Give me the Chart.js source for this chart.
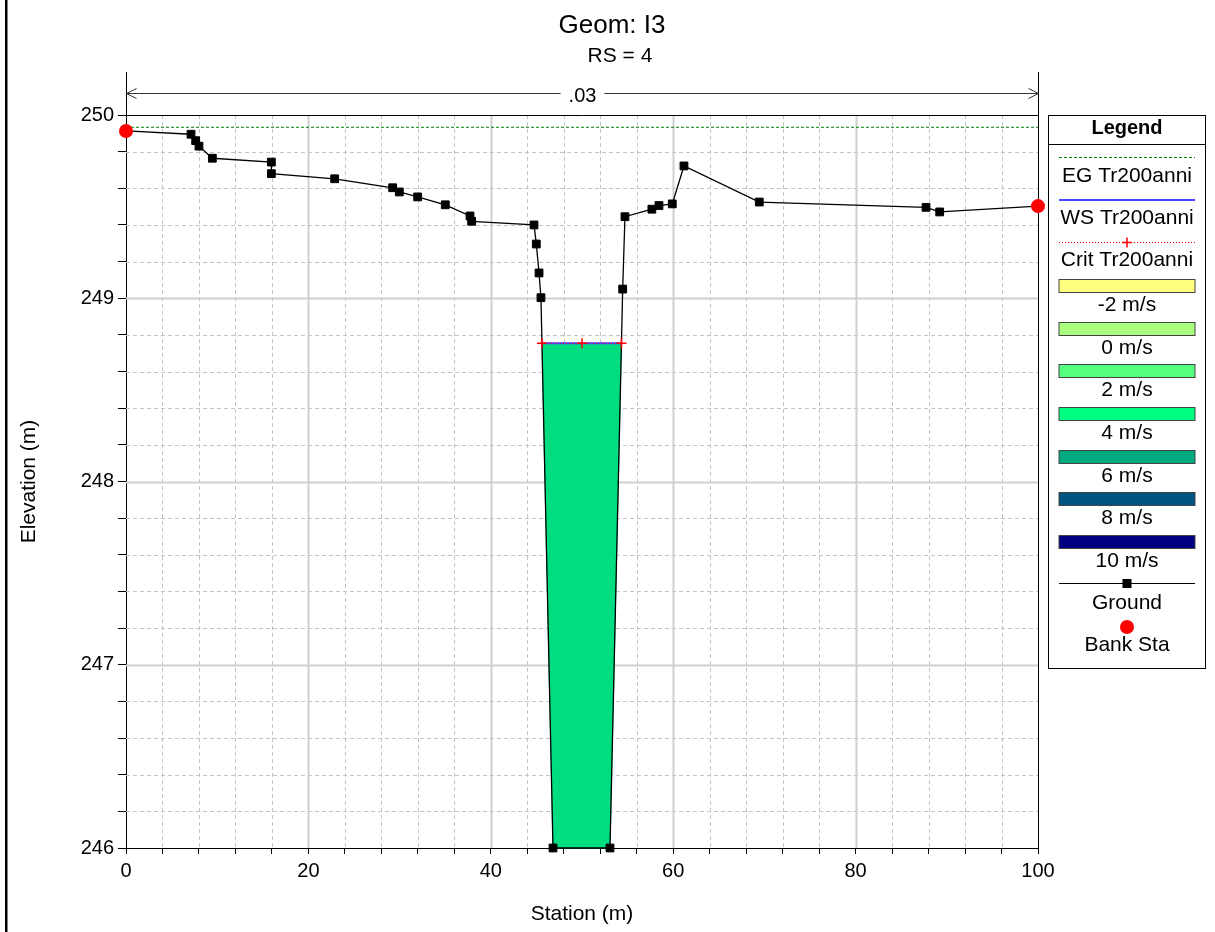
<!DOCTYPE html>
<html><head><meta charset="utf-8">
<script src="https://cdn.jsdelivr.net/npm/chart.js@4.4.1/dist/chart.umd.min.js"></script>
<style>html,body{margin:0;padding:0;background:#fff;}canvas{display:block;}</style>
</head><body>
<canvas id="c" width="1215" height="932"></canvas>
<script>
// ---------- data ----------
const titleText = 'Geom: I3';
const subtitleText = 'RS = 4';
const xAxisTitle = 'Station (m)';
const yAxisTitle = 'Elevation (m)';
const xTickLabels = [0, 20, 40, 60, 80, 100];
const yTickLabels = [246, 247, 248, 249, 250];

const groundX = [0, 7.13, 7.64, 8.0, 9.47, 15.94, 15.94, 22.88, 29.24, 29.97, 31.98, 35.01, 37.72, 37.9, 44.74, 44.99, 45.29, 45.5, 46.82, 53.07, 54.46, 54.71, 57.66, 58.44, 59.9, 61.18, 69.44, 87.72, 89.22, 100];
const groundY = [249.913, 249.895, 249.86, 249.83, 249.764, 249.743, 249.68, 249.652, 249.603, 249.58, 249.553, 249.51, 249.449, 249.42, 249.40, 249.296, 249.138, 249.003, 246.0, 246.0, 249.05, 249.445, 249.486, 249.506, 249.515, 249.722, 249.525, 249.496, 249.471, 249.503];
const bankX = [0, 100];
const bankY = [249.913, 249.503];
const egX = [0, 100];
const egY = [249.933, 249.933];
const wsX = [45.61, 54.33];
const wsY = [248.754, 248.754];
const critX = [45.61, 50.0, 54.33];
const critY = [248.754, 248.754, 248.754];
const nRegionX = [0, 100];
const nValues = ['.03'];
const legendTitle = 'Legend';
const legendLines = ['EG Tr200anni', 'WS Tr200anni', 'Crit Tr200anni'];
const velocityLabels = ['-2 m/s', '0 m/s', '2 m/s', '4 m/s', '6 m/s', '8 m/s', '10 m/s'];
const velocityColors = ['#FFFF80', '#AAFF80', '#55FF80', '#00FF80', '#00AA80', '#005580', '#000080'];
const groundLabel = 'Ground';
const bankLabel = 'Bank Sta';
const flowFillColor = '#00DC80';

// ---------- build ----------
const FONT = "'Liberation Sans', Arial, sans-serif";
const pts = (xs, ys) => xs.map((x, i) => ({x, y: ys[i]}));
const ground = pts(groundX, groundY);
const flowPoly = [{x: wsX[0], y: wsY[0]}]
  .concat(ground.filter(p => p.x > wsX[0] && p.x < wsX[1] && p.y < wsY[0]))
  .concat([{x: wsX[1], y: wsY[1]}]);

const isTick = (v, list) => list.some(t => Math.abs(t - v) < 1e-6);

const decor = {
  id: 'decor',
  beforeDatasetsDraw(chart) {
    const {ctx, chartArea: a, scales: {x, y}} = chart;
    ctx.save();
    // grid
    x.ticks.forEach(t => {
      const v = t.value;
      if (v <= x.min + 1e-6 || v >= x.max - 1e-6) return;
      const px = Math.round(x.getPixelForValue(v)) + 0.5;
      ctx.beginPath();
      if (isTick(v, xTickLabels)) { ctx.setLineDash([]); ctx.strokeStyle = '#D0D0D0'; ctx.lineWidth = 2; }
      else { ctx.setLineDash([4, 3]); ctx.strokeStyle = '#C4C4C4'; ctx.lineWidth = 1; }
      ctx.moveTo(px, a.top); ctx.lineTo(px, a.bottom); ctx.stroke();
    });
    y.ticks.forEach(t => {
      const v = t.value;
      if (v <= y.min + 1e-6 || v >= y.max - 1e-6) return;
      const py = Math.round(y.getPixelForValue(v)) + 0.5;
      ctx.beginPath();
      if (isTick(v, yTickLabels)) { ctx.setLineDash([]); ctx.strokeStyle = '#D0D0D0'; ctx.lineWidth = 2; }
      else { ctx.setLineDash([4, 3]); ctx.strokeStyle = '#C4C4C4'; ctx.lineWidth = 1; }
      ctx.moveTo(a.left, py); ctx.lineTo(a.right, py); ctx.stroke();
    });
    ctx.setLineDash([]);
    // frame
    const top = Math.round(y.getPixelForValue(y.max)) + 0.5;
    const xl = Math.round(x.getPixelForValue(nRegionX[0])) + 0.5;
    const xr = Math.round(x.getPixelForValue(nRegionX[1])) + 0.5;
    ctx.strokeStyle = '#000'; ctx.lineWidth = 1;
    ctx.beginPath();
    ctx.moveTo(a.left, top); ctx.lineTo(xr, top);
    ctx.moveTo(xr, 72); ctx.lineTo(xr, a.bottom);
    ctx.moveTo(xl, 72); ctx.lineTo(xl, top);
    ctx.stroke();
    // n-value arrow
    const ay = 93.5;
    ctx.font = '20px ' + FONT;
    const label = nValues[0];
    const tw = ctx.measureText(label).width;
    const cx = (xl + xr) / 2;
    ctx.strokeStyle = '#333';
    ctx.beginPath();
    ctx.moveTo(xl, ay); ctx.lineTo(cx - tw / 2 - 8, ay);
    ctx.moveTo(cx + tw / 2 + 8, ay); ctx.lineTo(xr, ay);
    ctx.moveTo(xl + 10, ay - 5); ctx.lineTo(xl, ay); ctx.lineTo(xl + 10, ay + 5);
    ctx.moveTo(xr - 10, ay - 5); ctx.lineTo(xr, ay); ctx.lineTo(xr - 10, ay + 5);
    ctx.stroke();
    ctx.fillStyle = '#000'; ctx.textAlign = 'center'; ctx.textBaseline = 'alphabetic';
    ctx.fillText(label, cx, 101.5);
    ctx.restore();
  },
  afterDraw(chart) {
    const {ctx} = chart;
    ctx.save();
    ctx.fillStyle = '#000';
    ctx.fillRect(5, 0, 2.5, chart.height);
    ctx.textAlign = 'center'; ctx.textBaseline = 'alphabetic';
    ctx.font = '26px ' + FONT;
    ctx.fillText(titleText, 612, 33);
    ctx.font = '21px ' + FONT;
    ctx.fillText(subtitleText, 620, 62);

    // legend
    const L = 1048.5, R = 1205.5, T = 115.5, B = 668.5, cx = 1127, x0 = 1059, x1 = 1195;
    ctx.strokeStyle = '#000'; ctx.lineWidth = 1;
    ctx.strokeRect(L, T, R - L, B - T);
    ctx.beginPath(); ctx.moveTo(L, 144.5); ctx.lineTo(R, 144.5); ctx.stroke();
    ctx.textBaseline = 'middle';
    ctx.font = 'bold 20px ' + FONT;
    ctx.fillText(legendTitle, cx, 128);
    ctx.font = '21px ' + FONT;
    // EG
    ctx.strokeStyle = '#008000'; ctx.setLineDash([3, 2]);
    ctx.beginPath(); ctx.moveTo(x0, 157.5); ctx.lineTo(x1, 157.5); ctx.stroke();
    ctx.setLineDash([]);
    ctx.fillText(legendLines[0], cx, 176);
    // WS
    ctx.strokeStyle = '#4646FF'; ctx.lineWidth = 2;
    ctx.beginPath(); ctx.moveTo(x0, 200); ctx.lineTo(x1, 200); ctx.stroke();
    ctx.fillText(legendLines[1], cx, 218);
    // Crit
    ctx.strokeStyle = '#FF0000'; ctx.lineWidth = 1; ctx.setLineDash([1, 2]);
    ctx.beginPath(); ctx.moveTo(x0, 242.5); ctx.lineTo(x1, 242.5); ctx.stroke();
    ctx.setLineDash([]); ctx.lineWidth = 1.5;
    ctx.beginPath(); ctx.moveTo(cx - 5, 242.5); ctx.lineTo(cx + 5, 242.5);
    ctx.moveTo(cx, 237.5); ctx.lineTo(cx, 247.5); ctx.stroke();
    ctx.fillText(legendLines[2], cx, 260);
    // velocity boxes
    ctx.lineWidth = 1;
    velocityLabels.forEach((lab, i) => {
      const bt = Math.round(279 + i * 42.67) + 0.5;
      ctx.fillStyle = velocityColors[i];
      ctx.fillRect(x0, bt, x1 - x0, 13);
      ctx.strokeStyle = '#444';
      ctx.strokeRect(x0, bt, x1 - x0, 13);
      ctx.fillStyle = '#000';
      ctx.fillText(lab, cx, bt + 26);
    });
    // Ground
    ctx.strokeStyle = '#000'; ctx.lineWidth = 1;
    ctx.beginPath(); ctx.moveTo(x0, 583.5); ctx.lineTo(x1, 583.5); ctx.stroke();
    ctx.fillRect(cx - 4.5, 579, 9, 9);
    ctx.fillText(groundLabel, cx, 603);
    // Bank
    ctx.fillStyle = '#FF0000';
    ctx.beginPath(); ctx.arc(cx, 627, 7, 0, Math.PI * 2); ctx.fill();
    ctx.fillStyle = '#000';
    ctx.fillText(bankLabel, cx, 645);
    ctx.restore();
  }
};

const tickFont = {family: FONT, size: 20};
new Chart(document.getElementById('c').getContext('2d'), {
  type: 'scatter',
  data: {
    datasets: [
      {label: 'flow', data: flowPoly, showLine: true, fill: 'shape', backgroundColor: flowFillColor,
       borderColor: flowFillColor, borderWidth: 1, pointRadius: 0, order: 5, clip: false},
      {label: legendLines[0], data: pts(egX, egY), showLine: true, borderColor: '#008000', borderWidth: 1,
       borderDash: [3, 2], pointRadius: 0, order: 4, clip: false},
      {label: legendLines[1], data: pts(wsX, wsY), showLine: true, borderColor: '#4646FF', borderWidth: 2,
       pointRadius: 0, order: 3, clip: false},
      {label: groundLabel, data: ground, showLine: true, borderColor: '#000', borderWidth: 1.3,
       pointStyle: 'rect', pointRadius: 5.5, pointBackgroundColor: '#000', pointBorderColor: '#000',
       pointBorderWidth: 1, order: 2, clip: false},
      {label: legendLines[2], data: pts(critX, critY), showLine: true, borderColor: '#FF0000', borderWidth: 1,
       borderDash: [1, 2], pointStyle: 'cross', pointRadius: 5, pointBorderColor: '#FF0000',
       pointBorderWidth: 1.5, order: 1, clip: false},
      {label: bankLabel, data: pts(bankX, bankY), showLine: false, pointStyle: 'circle', pointRadius: 7,
       pointBackgroundColor: '#FF0000', pointBorderColor: '#FF0000', pointBorderWidth: 0, order: 0, clip: false}
    ]
  },
  options: {
    responsive: false, animation: false, devicePixelRatio: 1, events: [],
    layout: {padding: {left: 0, top: 115, right: 177, bottom: 0}},
    plugins: {legend: {display: false}, tooltip: {enabled: false}, title: {display: false}},
    scales: {
      x: {
        type: 'linear', position: 'bottom', min: 0, max: 100,
        afterFit(s) { s.height = 84; },
        ticks: {stepSize: 4, autoSkip: false, maxRotation: 0, padding: 5, color: '#000', font: tickFont,
                callback: v => isTick(v, xTickLabels) ? String(Math.round(v)) : ''},
        grid: {display: true, drawOnChartArea: false, drawTicks: true, tickLength: 6, tickColor: '#000', tickWidth: 1},
        border: {display: true, color: '#000', width: 1},
        title: {display: true, text: xAxisTitle, color: '#000', font: {family: FONT, size: 21}, padding: {top: 0, bottom: 5}}
      },
      y: {
        type: 'linear', position: 'left', min: 246, max: 250,
        afterFit(s) { s.width = 126; },
        ticks: {stepSize: 0.2, autoSkip: false, padding: 4, color: '#000', font: tickFont,
                callback: v => isTick(v, yTickLabels) ? String(Math.round(v)) : ''},
        grid: {display: true, drawOnChartArea: false, drawTicks: true, tickLength: 8, tickColor: '#000', tickWidth: 1},
        border: {display: true, color: '#000', width: 1},
        title: {display: true, text: yAxisTitle, color: '#000', font: {family: FONT, size: 21}, padding: {top: 17, bottom: 0}}
      }
    }
  },
  plugins: [decor]
});
</script>
</body></html>
